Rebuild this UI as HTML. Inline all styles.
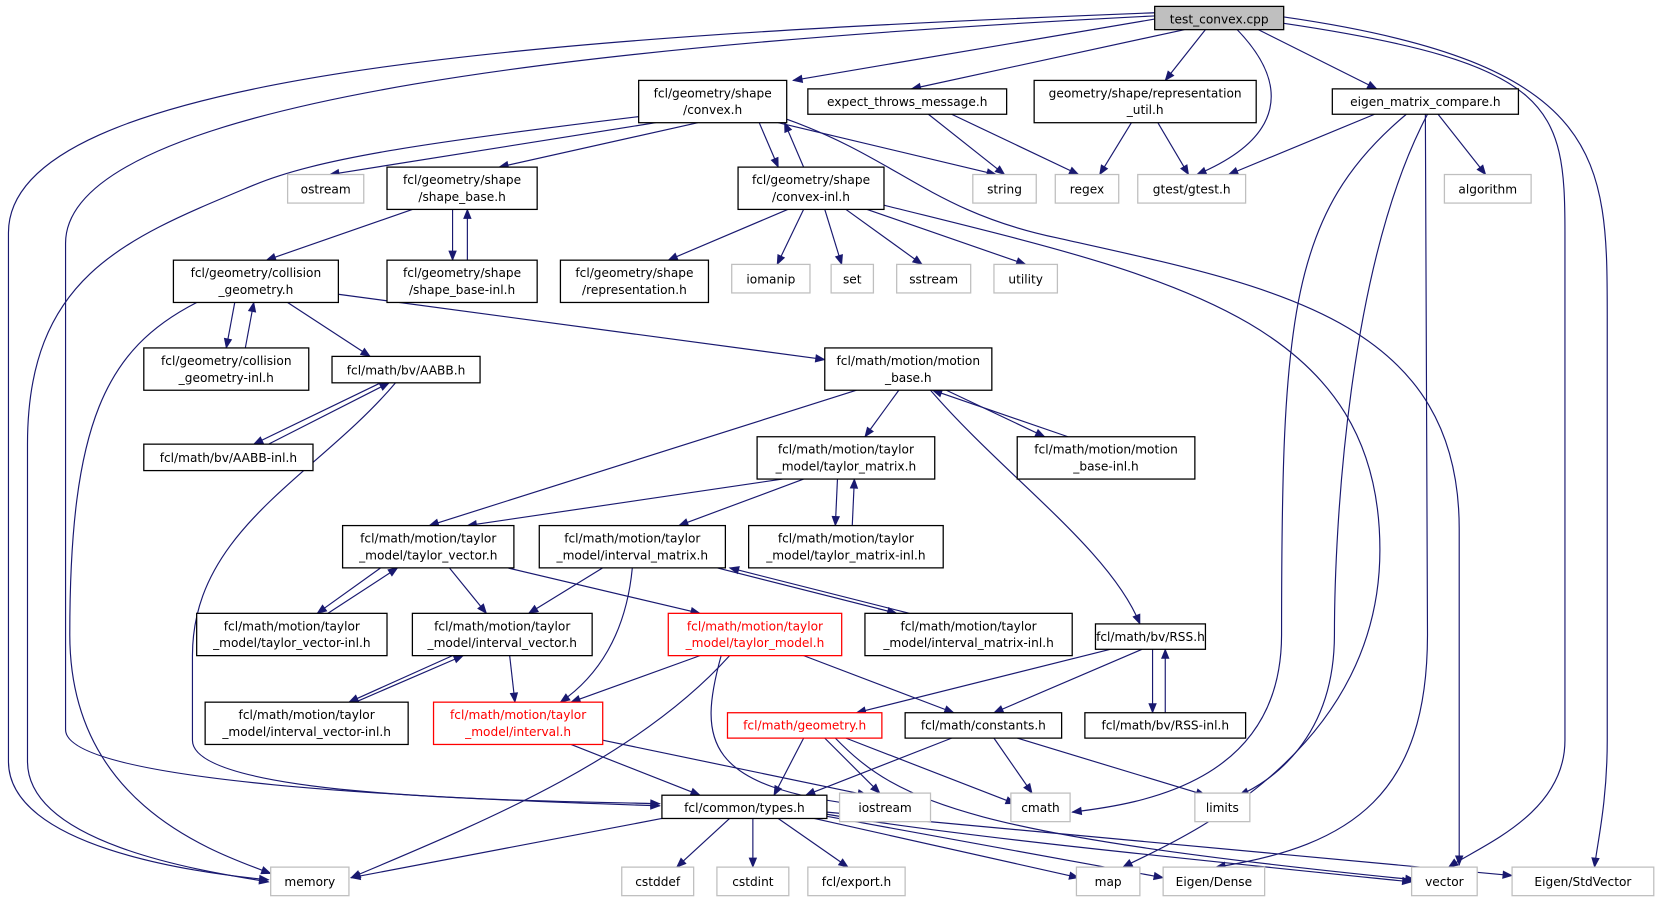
<!DOCTYPE html>
<html><head><meta charset="utf-8"><style>
html,body{margin:0;padding:0;background:#fff;}
svg{display:block;}
text{font-family:"DejaVu Sans","Liberation Sans",sans-serif;font-size:11.5px;fill:#000;text-anchor:middle;}
.n{fill:#fff;stroke:#000;stroke-width:1.2;}
.g{fill:#fff;stroke:#bfbfbf;stroke-width:1.2;}
.r{fill:#fff;stroke:#ff0000;stroke-width:1.2;}
path.e{fill:none;stroke:#191970;stroke-width:1.1;marker-end:url(#a);}
</style></head><body>
<svg width="1658" height="901" viewBox="0 0 1568 852" xmlns="http://www.w3.org/2000/svg">
<defs><marker id="a" viewBox="0 0 10 10" refX="9" refY="5" markerWidth="11" markerHeight="10" markerUnits="userSpaceOnUse" orient="auto"><path d="M0,1 L10,5 L0,9 z" fill="#191970"/></marker></defs>
<g>
<path class="e" d="M1092,18 L750,76"/>
<path class="e" d="M1092,12 C500,35 8,70 8,220 L8,720 C8,800 180,825 254,832"/>
<path class="e" d="M1092,15 C600,40 62,90 62,230 L62,690 C62,740 400,755 624,762"/>
<path class="e" d="M1120,28 L862,84"/>
<path class="e" d="M1140,28 L1102,76"/>
<path class="e" d="M1170,28 C1220,80 1215,130 1132,165"/>
<path class="e" d="M1190,28 L1302,84"/>
<path class="e" d="M1214,22 C1470,60 1480,100 1480,220 L1480,700 C1480,770 1400,800 1370,820"/>
<path class="e" d="M1214,16 C1520,60 1520,150 1520,300 L1520,700 C1520,760 1510,800 1508,820"/>
<path class="e" d="M620,116 L312,165"/>
<path class="e" d="M660,116 L472,158"/>
<path class="e" d="M606,110 C400,135 300,150 240,175 C120,225 26,260 26,420 L26,720 C26,800 200,825 254,834"/>
<path class="e" d="M718,116 L736,158"/>
<path class="e" d="M760,158 L742,116"/>
<path class="e" d="M736,116 L942,165"/>
<path class="e" d="M742,112 C850,150 880,200 1000,225 C1200,270 1380,300 1380,500 L1380,818"/>
<path class="e" d="M878,108 L950,165"/>
<path class="e" d="M900,108 L1020,165"/>
<path class="e" d="M1070,116 L1040,165"/>
<path class="e" d="M1095,116 L1124,165"/>
<path class="e" d="M1300,108 L1162,165"/>
<path class="e" d="M1360,108 L1405,165"/>
<path class="e" d="M1330,108 C1220,200 1212,300 1212,600 C1212,740 1080,760 1014,768"/>
<path class="e" d="M1350,108 C1275,250 1262,500 1262,600 C1262,700 1200,740 1172,752"/>
<path class="e" d="M1348,108 L1350,600 C1350,750 1280,800 1150,820"/>
<path class="e" d="M390,198 L252,246"/>
<path class="e" d="M428,198 L428,246"/>
<path class="e" d="M442,246 L442,198"/>
<path class="e" d="M745,198 L632,246"/>
<path class="e" d="M760,198 L735,250"/>
<path class="e" d="M780,198 L796,250"/>
<path class="e" d="M800,198 L872,250"/>
<path class="e" d="M820,198 L970,250"/>
<path class="e" d="M836,194 C1100,260 1305,300 1305,520 C1305,720 1100,800 1062,820"/>
<path class="e" d="M222,286 L214,329"/>
<path class="e" d="M232,329 L240,286"/>
<path class="e" d="M272,286 L350,337"/>
<path class="e" d="M318,278 L780,340"/>
<path class="e" d="M186,286 C100,330 66,400 66,600 C66,760 200,805 256,826"/>
<path class="e" d="M360,362 L240,420"/>
<path class="e" d="M254,420 L368,362"/>
<path class="e" d="M374,362 C300,450 182,500 182,620 L182,700 C182,755 500,757 624,760"/>
<path class="e" d="M810,369 L406,497"/>
<path class="e" d="M850,369 L818,413"/>
<path class="e" d="M895,369 L988,413"/>
<path class="e" d="M1010,413 L882,369"/>
<path class="e" d="M880,369 C950,450 1050,520 1078,590"/>
<path class="e" d="M740,453 L442,497"/>
<path class="e" d="M760,453 L642,497"/>
<path class="e" d="M792,453 L790,497"/>
<path class="e" d="M806,497 L808,453"/>
<path class="e" d="M360,537 L300,580"/>
<path class="e" d="M310,580 L376,537"/>
<path class="e" d="M425,537 L460,580"/>
<path class="e" d="M480,537 L662,580"/>
<path class="e" d="M570,537 L500,580"/>
<path class="e" d="M598,537 C592,600 565,640 530,664"/>
<path class="e" d="M678,537 L848,580"/>
<path class="e" d="M860,580 L690,537"/>
<path class="e" d="M428,620 L330,664"/>
<path class="e" d="M336,664 L438,620"/>
<path class="e" d="M482,620 L487,664"/>
<path class="e" d="M662,620 L540,664"/>
<path class="e" d="M760,620 L902,674"/>
<path class="e" d="M690,620 C600,720 450,780 332,830"/>
<path class="e" d="M682,620 C660,700 665,745 820,762"/>
<path class="e" d="M1050,614 L810,674"/>
<path class="e" d="M1080,614 L940,674"/>
<path class="e" d="M1090,614 L1090,674"/>
<path class="e" d="M1102,674 L1102,614"/>
<path class="e" d="M540,704 L662,752"/>
<path class="e" d="M570,700 L820,752"/>
<path class="e" d="M760,698 L732,752"/>
<path class="e" d="M780,698 L832,750"/>
<path class="e" d="M800,698 L960,760"/>
<path class="e" d="M790,698 C850,760 920,790 1338,832"/>
<path class="e" d="M900,698 L762,752"/>
<path class="e" d="M940,698 L976,750"/>
<path class="e" d="M962,698 L1140,752"/>
<path class="e" d="M626,774 L332,830"/>
<path class="e" d="M690,774 L640,820"/>
<path class="e" d="M712,774 L712,820"/>
<path class="e" d="M736,774 L802,820"/>
<path class="e" d="M770,774 L1020,830"/>
<path class="e" d="M782,772 L1100,830"/>
<path class="e" d="M782,770 C900,790 1100,810 1335,834"/>
<path class="e" d="M782,768 L1430,828"/>
</g>
<g>
<rect x="1092" y="6" width="122" height="22" fill="#bfbfbf" stroke="#000" stroke-width="1.2"/><text x="1153" y="22">test_convex.cpp</text>
<rect class="n" x="604" y="76" width="140" height="40"/><text x="674" y="92">fcl/geometry/shape</text><text x="674" y="108">/convex.h</text>
<rect class="n" x="764" y="84" width="188" height="24"/><text x="858" y="100">expect_throws_message.h</text>
<rect class="n" x="978" y="76" width="210" height="40"/><text x="1083" y="92">geometry/shape/representation</text><text x="1083" y="108">_util.h</text>
<rect class="n" x="1260" y="84" width="176" height="24"/><text x="1348" y="100">eigen_matrix_compare.h</text>
<rect class="g" x="272" y="165" width="72" height="27"/><text x="308" y="183">ostream</text>
<rect class="n" x="366" y="158" width="142" height="40"/><text x="437" y="174">fcl/geometry/shape</text><text x="437" y="190">/shape_base.h</text>
<rect class="n" x="698" y="158" width="138" height="40"/><text x="767" y="174">fcl/geometry/shape</text><text x="767" y="190">/convex-inl.h</text>
<rect class="g" x="920" y="165" width="60" height="27"/><text x="950" y="183">string</text>
<rect class="g" x="998" y="165" width="60" height="27"/><text x="1028" y="183">regex</text>
<rect class="g" x="1076" y="165" width="102" height="27"/><text x="1127" y="183">gtest/gtest.h</text>
<rect class="g" x="1366" y="165" width="82" height="27"/><text x="1407" y="183">algorithm</text>
<rect class="n" x="164" y="246" width="156" height="40"/><text x="242" y="262">fcl/geometry/collision</text><text x="242" y="278">_geometry.h</text>
<rect class="n" x="366" y="246" width="142" height="40"/><text x="437" y="262">fcl/geometry/shape</text><text x="437" y="278">/shape_base-inl.h</text>
<rect class="n" x="530" y="246" width="140" height="40"/><text x="600" y="262">fcl/geometry/shape</text><text x="600" y="278">/representation.h</text>
<rect class="g" x="692" y="250" width="74" height="27"/><text x="729" y="268">iomanip</text>
<rect class="g" x="786" y="250" width="40" height="27"/><text x="806" y="268">set</text>
<rect class="g" x="848" y="250" width="70" height="27"/><text x="883" y="268">sstream</text>
<rect class="g" x="940" y="250" width="60" height="27"/><text x="970" y="268">utility</text>
<rect class="n" x="136" y="329" width="156" height="40"/><text x="214" y="345">fcl/geometry/collision</text><text x="214" y="361">_geometry-inl.h</text>
<rect class="n" x="314" y="337" width="140" height="25"/><text x="384" y="354">fcl/math/bv/AABB.h</text>
<rect class="n" x="780" y="329" width="158" height="40"/><text x="859" y="345">fcl/math/motion/motion</text><text x="859" y="361">_base.h</text>
<rect class="n" x="136" y="420" width="160" height="25"/><text x="216" y="437">fcl/math/bv/AABB-inl.h</text>
<rect class="n" x="716" y="413" width="168" height="40"/><text x="800" y="429">fcl/math/motion/taylor</text><text x="800" y="445">_model/taylor_matrix.h</text>
<rect class="n" x="962" y="413" width="168" height="40"/><text x="1046" y="429">fcl/math/motion/motion</text><text x="1046" y="445">_base-inl.h</text>
<rect class="n" x="324" y="497" width="162" height="40"/><text x="405" y="513">fcl/math/motion/taylor</text><text x="405" y="529">_model/taylor_vector.h</text>
<rect class="n" x="510" y="497" width="176" height="40"/><text x="598" y="513">fcl/math/motion/taylor</text><text x="598" y="529">_model/interval_matrix.h</text>
<rect class="n" x="708" y="497" width="184" height="40"/><text x="800" y="513">fcl/math/motion/taylor</text><text x="800" y="529">_model/taylor_matrix-inl.h</text>
<rect class="n" x="186" y="580" width="180" height="40"/><text x="276" y="596">fcl/math/motion/taylor</text><text x="276" y="612">_model/taylor_vector-inl.h</text>
<rect class="n" x="390" y="580" width="170" height="40"/><text x="475" y="596">fcl/math/motion/taylor</text><text x="475" y="612">_model/interval_vector.h</text>
<rect class="r" x="632" y="580" width="164" height="40"/><text x="714" y="596" style="fill:#f00">fcl/math/motion/taylor</text><text x="714" y="612" style="fill:#f00">_model/taylor_model.h</text>
<rect class="n" x="818" y="580" width="196" height="40"/><text x="916" y="596">fcl/math/motion/taylor</text><text x="916" y="612">_model/interval_matrix-inl.h</text>
<rect class="n" x="1036" y="590" width="104" height="24"/><text x="1088" y="606">fcl/math/bv/RSS.h</text>
<rect class="n" x="194" y="664" width="192" height="40"/><text x="290" y="680">fcl/math/motion/taylor</text><text x="290" y="696">_model/interval_vector-inl.h</text>
<rect class="r" x="410" y="664" width="160" height="40"/><text x="490" y="680" style="fill:#f00">fcl/math/motion/taylor</text><text x="490" y="696" style="fill:#f00">_model/interval.h</text>
<rect class="r" x="688" y="674" width="146" height="24"/><text x="761" y="690" style="fill:#f00">fcl/math/geometry.h</text>
<rect class="n" x="856" y="674" width="148" height="24"/><text x="930" y="690">fcl/math/constants.h</text>
<rect class="n" x="1026" y="674" width="152" height="24"/><text x="1102" y="690">fcl/math/bv/RSS-inl.h</text>
<rect class="n" x="626" y="752" width="156" height="22"/><text x="704" y="768">fcl/common/types.h</text>
<rect class="g" x="794" y="750" width="86" height="27"/><text x="837" y="768">iostream</text>
<rect class="g" x="956" y="750" width="56" height="27"/><text x="984" y="768">cmath</text>
<rect class="g" x="1130" y="750" width="52" height="27"/><text x="1156" y="768">limits</text>
<rect class="g" x="256" y="820" width="74" height="27"/><text x="293" y="838">memory</text>
<rect class="g" x="588" y="820" width="68" height="27"/><text x="622" y="838">cstddef</text>
<rect class="g" x="678" y="820" width="68" height="27"/><text x="712" y="838">cstdint</text>
<rect class="g" x="764" y="820" width="92" height="27"/><text x="810" y="838">fcl/export.h</text>
<rect class="g" x="1018" y="820" width="60" height="27"/><text x="1048" y="838">map</text>
<rect class="g" x="1100" y="820" width="96" height="27"/><text x="1148" y="838">Eigen/Dense</text>
<rect class="g" x="1335" y="820" width="62" height="27"/><text x="1366" y="838">vector</text>
<rect class="g" x="1430" y="820" width="134" height="27"/><text x="1497" y="838">Eigen/StdVector</text>
</g>
</svg>
</body></html>
